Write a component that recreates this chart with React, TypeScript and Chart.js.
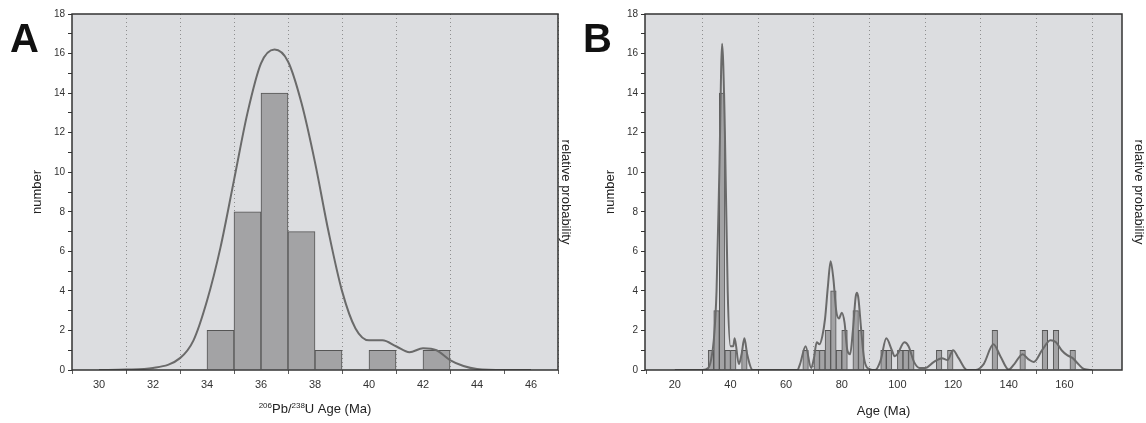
import React, { useEffect, useRef } from "react";
import { Chart, registerables } from "chart.js";
Chart.register(...registerables);

// Panel A
const binsA = [34.5, 35.5, 36.5, 37.5, 38.5, 40.5, 42.5];
const countsA = [2, 8, 14, 7, 1, 1, 1];
const curveAx = [30, 31, 32, 33, 33.5, 34, 34.5, 35, 35.5, 36, 36.5, 37, 37.5, 38, 38.5, 39, 39.5, 40, 40.5, 41, 41.5, 42, 42.5, 43, 43.5, 44, 45, 46];
const curveAy = [0, 0.02, 0.1, 0.6, 1.5, 3.5, 6.2, 9.6, 13, 15.5, 16.2, 15.6, 13.5, 10.5, 7, 4, 2.1, 1.5, 1.5, 1.2, 0.9, 1.1, 1.0, 0.5, 0.2, 0.05, 0, 0];
const ticksA = [30, 32, 34, 36, 38, 40, 42, 44, 46];

// Panel B
const binsB = [33, 35, 37, 39, 41, 45, 67, 71, 73, 75, 77, 79, 81, 85, 87, 95, 97, 101, 103, 105, 115, 119, 135, 145, 153, 157, 163];
const countsB = [1, 3, 14, 1, 1, 1, 1, 1, 1, 2, 4, 1, 2, 3, 2, 1, 1, 1, 1, 1, 1, 1, 2, 1, 2, 2, 1];
const curveBx = [20, 30, 32, 33, 34, 35, 36, 37, 38, 39, 40, 41, 41.5, 43, 44, 45, 46, 48, 60, 64, 65, 67, 69, 70, 71, 72, 73, 74, 75, 76, 77, 78, 79, 80, 81, 82, 83, 84, 85, 85.5, 86, 87, 88, 90, 92, 94, 96, 98, 99, 100, 102.5, 104, 106, 108, 110, 113, 116, 118, 120, 122, 125, 128, 131, 134.5, 137, 140, 142, 145, 147, 149, 152, 155, 157, 159, 161, 163, 165, 167, 170];
const curveBy = [0, 0, 0.1, 0.5, 1.5, 4, 10, 16.5, 12, 4, 1.2, 1.2, 1.6, 0.3, 0.8, 1.6, 0.8, 0, 0, 0, 0.3, 1.2, 0.1, 0.6, 1.4, 1.3, 1.7, 2.6, 4.2, 5.5, 4.6, 3.0, 2.6, 2.9, 2.4, 1.0, 0.8, 2.0, 3.7, 3.9, 3.6, 2.0, 0.6, 0.05, 0, 0.5, 1.6, 1.0, 0.7, 0.8, 1.4, 1.2, 0.4, 0.1, 0.1, 0.4, 0.6, 0.5, 1.0, 0.6, 0, 0, 0.3, 1.3, 0.7, 0.02, 0.3, 0.8, 0.55, 0.4, 1.0, 1.5, 1.4, 1.0, 0.75, 0.6, 0.3, 0.05, 0];
const ticksB = [20, 40, 60, 80, 100, 120, 140, 160];

const FONT = "'Liberation Sans', Arial, sans-serif";

function drawIsotopeTitle(ctx: CanvasRenderingContext2D, cx: number, y: number) {
  const parts: [string, boolean][] = [["206", true], ["Pb/", false], ["238", true], ["U Age (Ma)", false]];
  const big = `13px ${FONT}`, small = `8px ${FONT}`;
  let w = 0;
  for (const [t, s] of parts) { ctx.font = s ? small : big; w += ctx.measureText(t).width; }
  let x = cx - w / 2;
  ctx.fillStyle = "#222";
  ctx.textBaseline = "alphabetic";
  ctx.textAlign = "left";
  for (const [t, s] of parts) {
    ctx.font = s ? small : big;
    ctx.fillText(t, x, s ? y - 5 : y);
    x += ctx.measureText(t).width;
  }
}

function makeChart(canvas: HTMLCanvasElement, o: any) {
  const frame = {
    id: "frame",
    beforeDraw(c: any) {
      const { ctx, chartArea: a } = c;
      ctx.save();
      ctx.fillStyle = "#dcdde0";
      ctx.fillRect(a.left, a.top, a.right - a.left, a.bottom - a.top);
      ctx.restore();
    },
    afterDraw(c: any) {
      const { ctx, chartArea: a } = c;
      ctx.save();
      ctx.strokeStyle = "#333";
      ctx.lineWidth = 1.5;
      ctx.strokeRect(a.left, a.top, a.right - a.left, a.bottom - a.top);
      ctx.fillStyle = "#111";
      ctx.font = `bold 40px ${FONT}`;
      ctx.fillText(o.letter, o.letterX, 52);
      if (o.isoTitle) drawIsotopeTitle(ctx, (a.left + a.right) / 2, 413);
      ctx.restore();
    },
  };
  const bars = o.bins.map((x: number, i: number) => ({ x, y: o.counts[i] }));
  const line = o.cx.map((x: number, i: number) => ({ x, y: o.cy[i] }));
  return new Chart(canvas, {
    type: "bar",
    data: {
      datasets: [
        { type: "line", data: line, borderColor: "#6a6a6a", borderWidth: 2, pointRadius: 0, cubicInterpolationMode: "monotone", order: 0 } as any,
        { type: "bar", data: bars, backgroundColor: "#a3a3a5", borderColor: "#555", borderWidth: 1, barPercentage: 1, categoryPercentage: 1, order: 1 } as any,
      ],
    },
    options: {
      animation: false,
      responsive: false,
      layout: { padding: { top: 14, left: 30, right: 0, bottom: 0 } },
      plugins: { legend: { display: false }, tooltip: { enabled: false } },
      scales: {
        x: {
          type: "linear",
          min: o.xmin,
          max: o.xmax,
          afterBuildTicks: (s: any) => { s.ticks = o.ticks.map((v: number) => ({ value: v })); },
          afterFit: (s: any) => { s.height = 53; },
          ticks: { color: "#333", font: { family: FONT, size: 11 }, padding: 4, maxRotation: 0 },
          grid: {
            color: (c: any) => (c.tick && (c.tick.value === o.xmin || c.tick.value === o.xmax) ? "rgba(0,0,0,0)" : "#7a7a7a"),
            lineWidth: 0.8,
            tickLength: 4,
            tickColor: "#333",
          } as any,
          border: { display: false, dash: [1, 3] },
          title: { display: !o.isoTitle, text: o.xtitle, color: "#222", font: { family: FONT, size: 13 }, padding: { top: 6 } },
        },
        y: {
          position: "left",
          min: 0,
          max: 18,
          afterFit: (s: any) => { s.width = 42; },
          ticks: { stepSize: 1, color: "#333", font: { family: FONT, size: 10 }, callback: (v: any) => (v % 2 === 0 ? String(v) : ""), padding: 3, autoSkip: false },
          grid: { drawOnChartArea: false, tickLength: 4, tickColor: "#333" },
          border: { display: false },
          title: { display: true, text: "number", color: "#222", font: { family: FONT, size: 13 }, padding: 0 },
        },
        y2: {
          position: "right",
          min: 0,
          max: 18,
          afterFit: (s: any) => { s.width = o.right; },
          ticks: { display: false },
          grid: { display: false },
          border: { display: false },
          title: { display: true, text: "relative probability", color: "#222", font: { family: FONT, size: 13 }, padding: 0 },
        },
      },
    } as any,
    plugins: [frame],
  });
}

export default function App() {
  const a = useRef<HTMLCanvasElement>(null);
  const b = useRef<HTMLCanvasElement>(null);
  useEffect(() => {
    const ca = makeChart(a.current!, { letter: "A", letterX: 10, bins: binsA, counts: countsA, cx: curveAx, cy: curveAy, ticks: ticksA, xmin: 30, xmax: 46, xtitle: "Pb/U Age (Ma)", isoTitle: true, right: 15 });
    const cb = makeChart(b.current!, { letter: "B", letterX: 10, bins: binsB, counts: countsB, cx: curveBx, cy: curveBy, ticks: ticksB, xmin: 20, xmax: 170, xtitle: "Age (Ma)", isoTitle: false, right: 24 });
    return () => { ca.destroy(); cb.destroy(); };
  }, []);
  return (
    <div style={{ position: "fixed", left: 0, top: 0, width: 1146, height: 423, background: "#fff" }}>
      <canvas ref={a} width={573} height={423} style={{ position: "absolute", left: 0, top: 0, width: 573, height: 423 }} />
      <canvas ref={b} width={573} height={423} style={{ position: "absolute", left: 573, top: 0, width: 573, height: 423 }} />
    </div>
  );
}
